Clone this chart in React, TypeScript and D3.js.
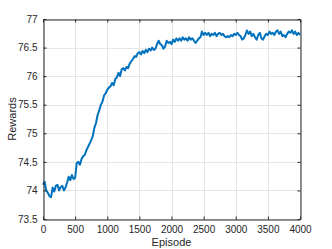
import * as d3 from 'd3';
import React, { useRef, useEffect } from 'react';

const episodes = d3.range(0, 4001, 25);
const rewards = [
  74.10, 74.15, 74.00, 73.96, 73.90, 73.88, 74.05, 73.98, 74.08, 74.10,
  74.00, 74.06, 74.08, 74.00, 74.05, 74.14, 74.24, 74.18, 74.27, 74.20,
  74.22, 74.48, 74.50, 74.45, 74.55, 74.60, 74.62, 74.70, 74.76, 74.82,
  74.88, 74.95, 75.10, 75.18, 75.32, 75.40, 75.50, 75.55, 75.66, 75.70,
  75.76, 75.80, 75.82, 75.88, 75.84, 75.95, 75.98, 76.06, 76.00, 76.12,
  76.14, 76.10, 76.16, 76.14, 76.22, 76.26, 76.30, 76.35, 76.34, 76.40,
  76.42, 76.38, 76.44, 76.40, 76.46, 76.42, 76.48, 76.45, 76.50, 76.46,
  76.48, 76.56, 76.62, 76.56, 76.54, 76.48, 76.52, 76.62, 76.58, 76.60,
  76.56, 76.64, 76.60, 76.66, 76.62, 76.66, 76.62, 76.68, 76.64, 76.66,
  76.62, 76.68, 76.64, 76.66, 76.62, 76.58, 76.62, 76.66, 76.68, 76.78,
  76.72, 76.76, 76.72, 76.76, 76.70, 76.74, 76.72, 76.76, 76.70, 76.74,
  76.76, 76.72, 76.74, 76.70, 76.68, 76.70, 76.68, 76.72, 76.70, 76.74,
  76.72, 76.76, 76.72, 76.70, 76.64, 76.66, 76.72, 76.80, 76.74, 76.78,
  76.70, 76.74, 76.68, 76.64, 76.72, 76.76, 76.66, 76.64, 76.70, 76.74,
  76.72, 76.78, 76.74, 76.76, 76.72, 76.78, 76.80, 76.74, 76.78, 76.70,
  76.72, 76.68, 76.74, 76.78, 76.76, 76.80, 76.74, 76.78, 76.72, 76.76,
  76.72,
];
const xTicks = [0, 500, 1000, 1500, 2000, 2500, 3000, 3500, 4000];
const yTicks = [73.5, 74, 74.5, 75, 75.5, 76, 76.5, 77];

const W = 332, H = 249;
const margin = { top: 19, right: 32, bottom: 30, left: 43 };

function Chart() {
  const ref = useRef<SVGSVGElement>(null);

  useEffect(() => {
    const svg = d3.select(ref.current);
    svg.selectAll('*').remove();

    const x = d3.scaleLinear().domain([0, 4000]).range([margin.left, W - margin.right]);
    const y = d3.scaleLinear().domain([73.5, 77]).range([H - margin.bottom, margin.top]);
    const font = 'Liberation Sans, Arial, Helvetica, sans-serif';
    const axisColor = '#262626';
    const fmt = d3.format('');

    // grid
    const grid = svg.append('g').attr('stroke', '#e6e6e6').attr('stroke-width', 1);
    grid.selectAll('line.gx').data(xTicks).join('line')
      .attr('x1', d => Math.round(x(d)) + 0.5).attr('x2', d => Math.round(x(d)) + 0.5)
      .attr('y1', y(73.5)).attr('y2', y(77));
    grid.selectAll('line.gy').data(yTicks).join('line')
      .attr('y1', d => Math.round(y(d)) + 0.5).attr('y2', d => Math.round(y(d)) + 0.5)
      .attr('x1', x(0)).attr('x2', x(4000));

    // data
    const line = d3.line<number>()
      .x((d, i) => x(episodes[i]))
      .y(d => y(d));
    svg.append('path')
      .datum(rewards)
      .attr('fill', 'none')
      .attr('stroke', '#0072BD')
      .attr('stroke-width', 2)
      .attr('stroke-linejoin', 'round')
      .attr('d', line);

    // axes (box with inward ticks on all sides)
    const bottom = svg.append('g')
      .attr('transform', `translate(0,${Math.round(y(73.5)) + 0.5})`)
      .call(d3.axisBottom(x).tickValues(xTicks).tickSize(-3).tickSizeOuter(0).tickPadding(6).tickFormat(d => fmt(d as number)));
    const top = svg.append('g')
      .attr('transform', `translate(0,${Math.round(y(77)) + 0.5})`)
      .call(d3.axisTop(x).tickValues(xTicks).tickSize(-3).tickSizeOuter(0).tickFormat(() => ''));
    const left = svg.append('g')
      .attr('transform', `translate(${Math.round(x(0)) + 0.5},0)`)
      .call(d3.axisLeft(y).tickValues(yTicks).tickSize(-3).tickSizeOuter(0).tickPadding(6).tickFormat(d => fmt(d as number)));
    const right = svg.append('g')
      .attr('transform', `translate(${Math.round(x(4000)) + 0.5},0)`)
      .call(d3.axisRight(y).tickValues(yTicks).tickSize(-3).tickSizeOuter(0).tickFormat(() => ''));

    [bottom, top, left, right].forEach(g => {
      g.select('.domain').attr('stroke', axisColor);
      g.selectAll('.tick line').attr('stroke', axisColor);
      g.selectAll('.tick text').attr('fill', axisColor)
        .style('font-family', font).style('font-size', '10px');
    });

    svg.append('text')
      .attr('x', (x(0) + x(4000)) / 2)
      .attr('y', 246)
      .attr('text-anchor', 'middle')
      .attr('fill', axisColor)
      .style('font-family', font).style('font-size', '11px')
      .text('Episode');

    svg.append('text')
      .attr('transform', `translate(16,${(y(73.5) + y(77)) / 2}) rotate(-90)`)
      .attr('text-anchor', 'middle')
      .attr('fill', axisColor)
      .style('font-family', font).style('font-size', '11px')
      .text('Rewards');
  }, []);

  return <svg ref={ref} width={W} height={H} style={{ display: 'block', background: '#fff' }} />;
}

export default function App() {
  return (
    <div style={{ position: 'fixed', left: 0, top: 0, width: W, height: H, background: '#fff' }}>
      <Chart />
    </div>
  );
}
